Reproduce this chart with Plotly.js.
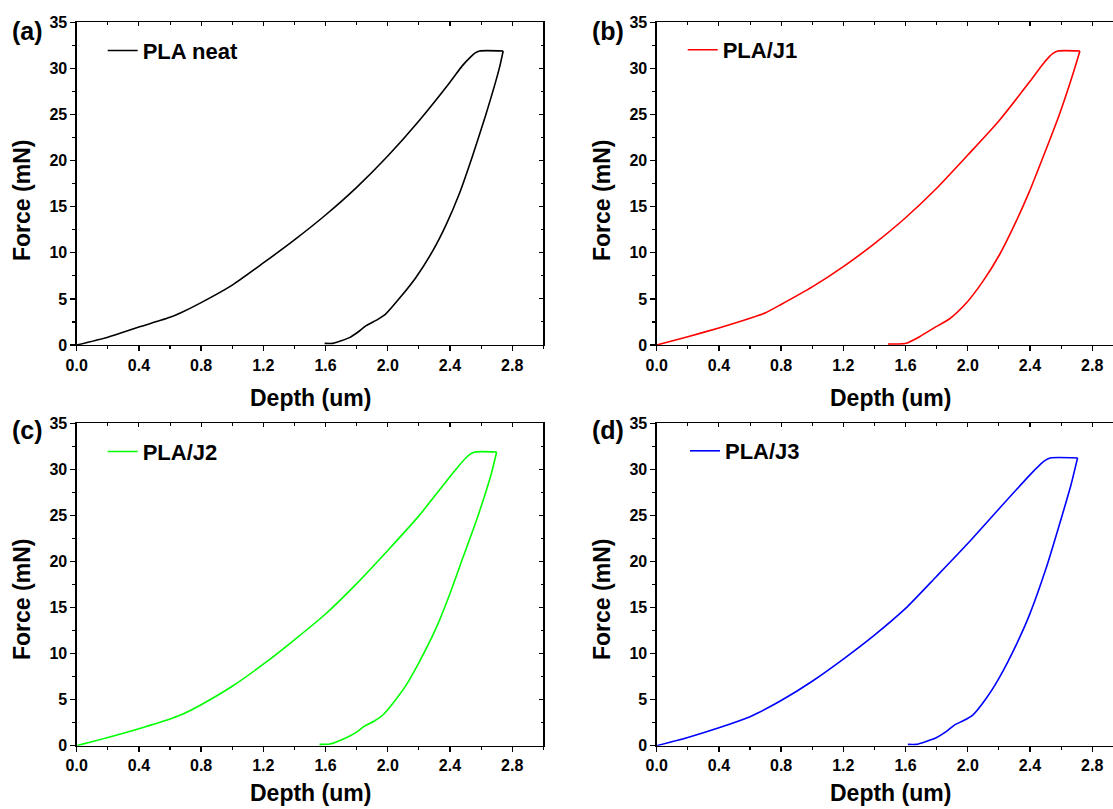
<!DOCTYPE html>
<html>
<head>
<meta charset="utf-8">
<script src="https://cdn.plot.ly/plotly-3.0.1.min.js"></script>
<style>
  html, body { margin: 0; padding: 0; background: #fff; overflow: hidden; }
  #chart { width: 1125px; height: 809px; }
</style>
</head>
<body>
<div id="chart"></div>
<script>
// ---------- data ----------
var seriesNames = ["PLA neat", "PLA/J1", "PLA/J2", "PLA/J3"];
var panelLabels = ["(a)", "(b)", "(c)", "(d)"];
var xTitle = "Depth (um)";
var yTitle = "Force (mN)";

// loading branch (ends with the hold plateau)
var depthNeatLoad = [0, 0.2, 0.4, 0.6, 0.67, 0.8, 1.0, 1.2, 1.4, 1.6, 1.8, 2.0, 2.2, 2.4, 2.48, 2.53, 2.56, 2.59, 2.742];
var forceNeatLoad = [0, 0.85, 1.95, 3.0, 3.5, 4.6, 6.5, 8.9, 11.4, 14.1, 17.1, 20.5, 24.3, 28.5, 30.3, 31.2, 31.65, 31.89, 31.89];
// unloading branch
var depthNeatUnload = [2.742, 2.717, 2.63, 2.545, 2.46, 2.374, 2.289, 2.18, 2.075, 1.989, 1.936, 1.861, 1.818, 1.754, 1.647, 1.594];
var forceNeatUnload = [31.89, 30.0, 24.95, 20.5, 16.4, 13.0, 10.2, 7.3, 5.06, 3.4, 2.78, 2.1, 1.52, 0.8, 0.18, 0.18];

var depthJ1Load = [0, 0.2, 0.4, 0.6, 0.7, 0.8, 1.0, 1.2, 1.4, 1.6, 1.8, 2.0, 2.2, 2.4, 2.48, 2.52, 2.55, 2.58, 2.721];
var forceJ1Load = [0, 0.9, 1.85, 2.9, 3.5, 4.4, 6.3, 8.5, 11.0, 13.8, 17.0, 20.6, 24.3, 28.6, 30.4, 31.2, 31.65, 31.89, 31.89];
var depthJ1Unload = [2.721, 2.674, 2.588, 2.481, 2.396, 2.31, 2.203, 2.096, 1.989, 1.882, 1.797, 1.69, 1.604, 1.551, 1.487];
var forceJ1Unload = [31.89, 29.28, 24.95, 20.25, 16.63, 13.38, 9.76, 6.87, 4.52, 2.82, 1.99, 0.9, 0.18, 0.11, 0.11];

var depthJ2Load = [0, 0.2, 0.4, 0.6, 0.69, 0.8, 1.0, 1.2, 1.4, 1.6, 1.8, 2.0, 2.2, 2.4, 2.46, 2.5, 2.53, 2.56, 2.7];
var forceJ2Load = [0, 0.88, 1.85, 2.9, 3.5, 4.45, 6.45, 8.85, 11.5, 14.3, 17.6, 21.2, 24.95, 29.2, 30.44, 31.2, 31.65, 31.89, 31.89];
var depthJ2Unload = [2.7, 2.663, 2.567, 2.481, 2.396, 2.31, 2.203, 2.118, 2.032, 1.968, 1.914, 1.85, 1.797, 1.733, 1.626, 1.561];
var forceJ2Unload = [31.89, 29.36, 24.3, 20.32, 16.34, 12.73, 9.11, 6.58, 4.59, 3.33, 2.68, 2.13, 1.45, 0.87, 0.18, 0.14];

var depthJ3Load = [0, 0.2, 0.4, 0.6, 0.65, 0.8, 1.0, 1.2, 1.4, 1.6, 1.8, 2.0, 2.2, 2.4, 2.47, 2.5, 2.53, 2.706];
var forceJ3Load = [0, 0.9, 1.95, 3.15, 3.55, 4.9, 7.0, 9.4, 12.0, 14.9, 18.4, 21.95, 25.7, 29.4, 30.6, 31.0, 31.24, 31.24];
var depthJ3Unload = [2.706, 2.663, 2.588, 2.503, 2.396, 2.31, 2.203, 2.118, 2.032, 1.968, 1.914, 1.861, 1.797, 1.668, 1.615];
var forceJ3Unload = [31.24, 28.27, 23.93, 19.23, 14.17, 10.9, 7.4, 5.13, 3.33, 2.68, 2.24, 1.52, 0.87, 0.14, 0.14];

var seriesColors = ["#000000", "#ff0000", "#00ff00", "#0000ff"];
var xTickStep = 0.4, xMinorStep = 0.2, yTickStep = 5, yMinorStep = 2.5;
var xRange = [0, 3.0], yRange = [0, 35];

// ---------- layout geometry (pixels in a 1125 x 809 canvas, right edge clipped like the reference) ----------
var W = 1125, H = 809;
function px(v) { return v / W; }
function py(v) { return 1 - v / H; }

var FONT = "Liberation Sans, Arial, Helvetica, sans-serif";
var colX = [[76.7, 543.3], [656.7, 1123.3]];
var rowY = [[22.3, 345], [423.3, 745.7]];
var panels = [
  {col: 0, row: 0, lx: depthNeatLoad, ly: forceNeatLoad, ux: depthNeatUnload, uy: forceNeatUnload},
  {col: 1, row: 0, lx: depthJ1Load, ly: forceJ1Load, ux: depthJ1Unload, uy: forceJ1Unload},
  {col: 0, row: 1, lx: depthJ2Load, ly: forceJ2Load, ux: depthJ2Unload, uy: forceJ2Unload},
  {col: 1, row: 1, lx: depthJ3Load, ly: forceJ3Load, ux: depthJ3Unload, uy: forceJ3Unload}
];
var legendPos = [[102.7, 50.7], [682.7, 50.0], [102.7, 451.7], [685.0, 451.0]];

var data = [];
var layout = {
  width: W, height: H,
  margin: {l: 0, r: 0, t: 0, b: 0},
  paper_bgcolor: "#ffffff",
  plot_bgcolor: "#ffffff",
  font: {family: FONT, color: "#000000"},
  showlegend: true,
  annotations: []
};

function axisBase(range, dtick, minorStep, fmt) {
  return {
    range: range, autorange: false,
    tick0: 0, dtick: dtick, tickformat: fmt,
    ticks: "outside", ticklen: 5, tickwidth: 1.3, tickcolor: "#000",
    minor: {ticks: "outside", ticklen: 3, tickwidth: 1.1, tickcolor: "#000", dtick: minorStep, tick0: 0},
    showline: true, mirror: true, linewidth: 1.3, linecolor: "#000",
    showgrid: false, zeroline: false,
    tickfont: {family: FONT, size: 16, weight: "bold", color: "#000"}
  };
}
function mirrorAxis(range, dtick, minorStep) {
  return {
    range: range, autorange: false,
    tick0: 0, dtick: dtick,
    ticks: "inside", ticklen: 4, tickwidth: 1.1, tickcolor: "#000",
    minor: {ticks: "inside", ticklen: 2.5, tickwidth: 1, tickcolor: "#000", dtick: minorStep, tick0: 0},
    showline: false, showticklabels: false,
    showgrid: false, zeroline: false
  };
}

panels.forEach(function (p, i) {
  var n = i + 1;
  var xa = n === 1 ? "xaxis" : "xaxis" + n;
  var ya = n === 1 ? "yaxis" : "yaxis" + n;
  var xid = n === 1 ? "x" : "x" + n;
  var yid = n === 1 ? "y" : "y" + n;
  var lg = n === 1 ? "legend" : "legend" + n;

  var ax = axisBase(xRange, xTickStep, xMinorStep, ".1f");
  ax.domain = [px(colX[p.col][0]), px(colX[p.col][1])];
  ax.anchor = yid;
  var ay = axisBase(yRange, yTickStep, yMinorStep, "d");
  ay.domain = [py(rowY[p.row][1]), py(rowY[p.row][0])];
  ay.anchor = xid;
  layout[xa] = ax;
  layout[ya] = ay;

  // inward ticks on the top and right frame lines
  var m = n + 4;
  var mx = mirrorAxis(xRange, xTickStep, xMinorStep);
  mx.overlaying = xid; mx.side = "top"; mx.anchor = yid;
  var my = mirrorAxis(yRange, yTickStep, yMinorStep);
  my.overlaying = yid; my.side = "right"; my.anchor = xid;
  layout["xaxis" + m] = mx;
  layout["yaxis" + m] = my;

  var lineStyle = {color: seriesColors[i], width: 1.6, shape: "spline", smoothing: 0.6};
  data.push({
    type: "scatter", mode: "lines",
    x: p.lx, y: p.ly, xaxis: xid, yaxis: yid,
    name: seriesNames[i], legend: lg, legendgroup: "g" + n,
    line: lineStyle, hoverinfo: "skip"
  });
  data.push({
    type: "scatter", mode: "lines",
    x: p.ux, y: p.uy, xaxis: xid, yaxis: yid,
    name: seriesNames[i], legend: lg, legendgroup: "g" + n, showlegend: false,
    line: lineStyle, hoverinfo: "skip"
  });
  data.push({
    type: "scatter", mode: "lines", x: [], y: [],
    xaxis: "x" + m, yaxis: "y" + m,
    showlegend: false, hoverinfo: "skip"
  });

  layout[lg] = {
    x: px(legendPos[i][0]), y: py(legendPos[i][1]),
    xanchor: "left", yanchor: "middle",
    xref: "paper", yref: "paper",
    bgcolor: "rgba(0,0,0,0)", borderwidth: 0,
    font: {family: FONT, size: 22, weight: "bold", color: "#000"}
  };

  var cx = (colX[p.col][0] + colX[p.col][1]) / 2;
  var labX = p.col === 0 ? 27.2 : 607.5;
  var labY = p.row === 0 ? 30.5 : 430;
  var tY = p.row === 0 ? 398 : 793;
  var fX = p.col === 0 ? 22 : 602;
  var fY = p.row === 0 ? 201 : 600;

  layout.annotations.push({
    text: panelLabels[i], xref: "paper", yref: "paper",
    x: px(labX), y: py(labY), xanchor: "center", yanchor: "middle", showarrow: false,
    font: {family: FONT, size: 25, weight: "bold", color: "#000"}
  });
  layout.annotations.push({
    text: xTitle, xref: "paper", yref: "paper",
    x: px(cx), y: py(tY), xanchor: "center", yanchor: "middle", showarrow: false,
    font: {family: FONT, size: 23, weight: "bold", color: "#000"}
  });
  layout.annotations.push({
    text: yTitle, xref: "paper", yref: "paper", textangle: -90,
    x: px(fX), y: py(fY), xanchor: "center", yanchor: "middle", showarrow: false,
    font: {family: FONT, size: 23, weight: "bold", color: "#000"}
  });
});

Plotly.newPlot("chart", data, layout, {staticPlot: true, displayModeBar: false});
</script>
</body>
</html>
